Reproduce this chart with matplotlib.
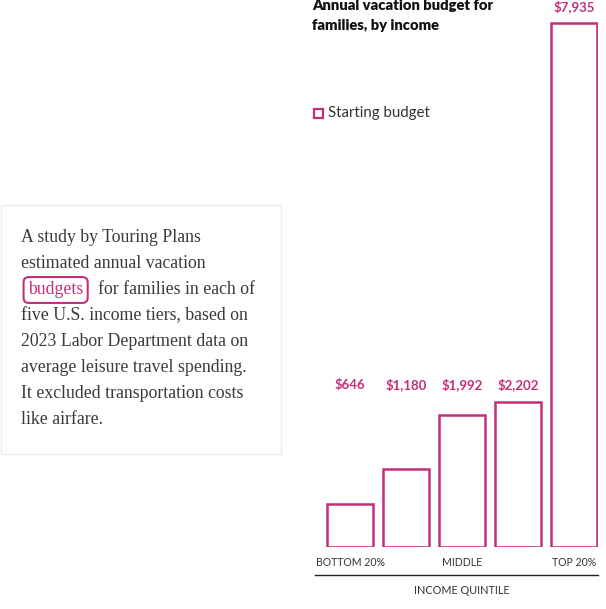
import matplotlib.pyplot as plt
import matplotlib.patches as mpatches
from matplotlib.lines import Line2D

W, H = 606, 609
pink = '#c2307a'

quintiles = ['BOTTOM 20%', '', 'MIDDLE', '', 'TOP 20%']
budget = [646, 1180, 1992, 2202, 7935]
value_labels = ['$646', '$1,180', '$1,992', '$2,202', '$7,935']

note_lines = ['A study by Touring Plans',
              'estimated annual vacation',
              '',
              'five U.S. income tiers, based on',
              '2023 Labor Department data on',
              'average leisure travel spending.',
              'It excluded transportation costs',
              'like airfare.']


def fx(x):
    return x / W


def fy(y):
    return 1 - y / H


fig = plt.figure(figsize=(W / 100, H / 100), dpi=100)

# note box on the left
fig.patches.append(mpatches.Rectangle((fx(1), fy(454)), fx(280), (454 - 205) / H,
                                      transform=fig.transFigure, facecolor='white',
                                      edgecolor='#ebebeb', lw=1))
serif = ['Liberation Serif', 'DejaVu Serif']
for i, line in enumerate(note_lines):
    fig.text(fx(21), fy(238 + 26 * i), line, family=serif, fontsize=12.8,
             color='#3a3a3a', va='center', ha='left')
fig.text(fx(28), fy(290), 'budgets', family=serif, fontsize=12.8, color=pink,
         va='center', ha='left',
         bbox=dict(boxstyle='round,pad=0.25,rounding_size=0.3', facecolor='white',
                   edgecolor=pink, lw=1.5))
fig.text(fx(98), fy(290), 'for families in each of', family=serif, fontsize=12.8,
         color='#3a3a3a', va='center', ha='left')

# title and legend
sans = ['Lato', 'DejaVu Sans']
fig.text(fx(312), fy(6), 'Annual vacation budget for', family=sans, fontsize=10.6,
         fontweight='heavy', color='#111111', va='center')
fig.text(fx(312), fy(25), 'families, by income', family=sans, fontsize=10.6,
         fontweight='heavy', color='#111111', va='center')
fig.patches.append(mpatches.Rectangle((fx(313.5), fy(118)), fx(9), 9 / H,
                                      transform=fig.transFigure, facecolor='white',
                                      edgecolor=pink, lw=1.6))
fig.text(fx(328), fy(113), 'Starting budget', family=sans, fontsize=10.8,
         color='#333333', va='center')

# bars
ax = fig.add_axes([fx(315), fy(547), fx(283), 547 / H])
x = range(len(budget))
ax.bar(x, budget, width=46 / 56, facecolor='white', edgecolor=pink, lw=1.8)
ax.set_xlim(-0.625, 4.42)
ax.set_ylim(0, 547 / 524 * 7935)
label_top = max(budget[:4])
for i, (v, lab) in enumerate(zip(budget, value_labels)):
    y = label_top if i < 4 else v
    ax.annotate(lab, (i, y), xytext=(0, 12), textcoords='offset points',
                ha='center', va='center', color=pink, fontsize=9.5,
                fontweight='bold', family=sans, annotation_clip=False)
ax.set_xticks(list(x))
ax.set_xticklabels(quintiles, family=sans, fontsize=7.6, color='#333333')
ax.tick_params(axis='x', length=0, pad=7.5)
ax.set_yticks([])
for s in ax.spines.values():
    s.set_visible(False)

fig.add_artist(Line2D([fx(315), fx(598)], [fy(575), fy(575)], color='#222222', lw=1))
fig.text(fx(462), fy(590), 'INCOME QUINTILE', family=sans, fontsize=7.8,
         color='#333333', ha='center', va='center')

fig.savefig('out.png', dpi=100)
